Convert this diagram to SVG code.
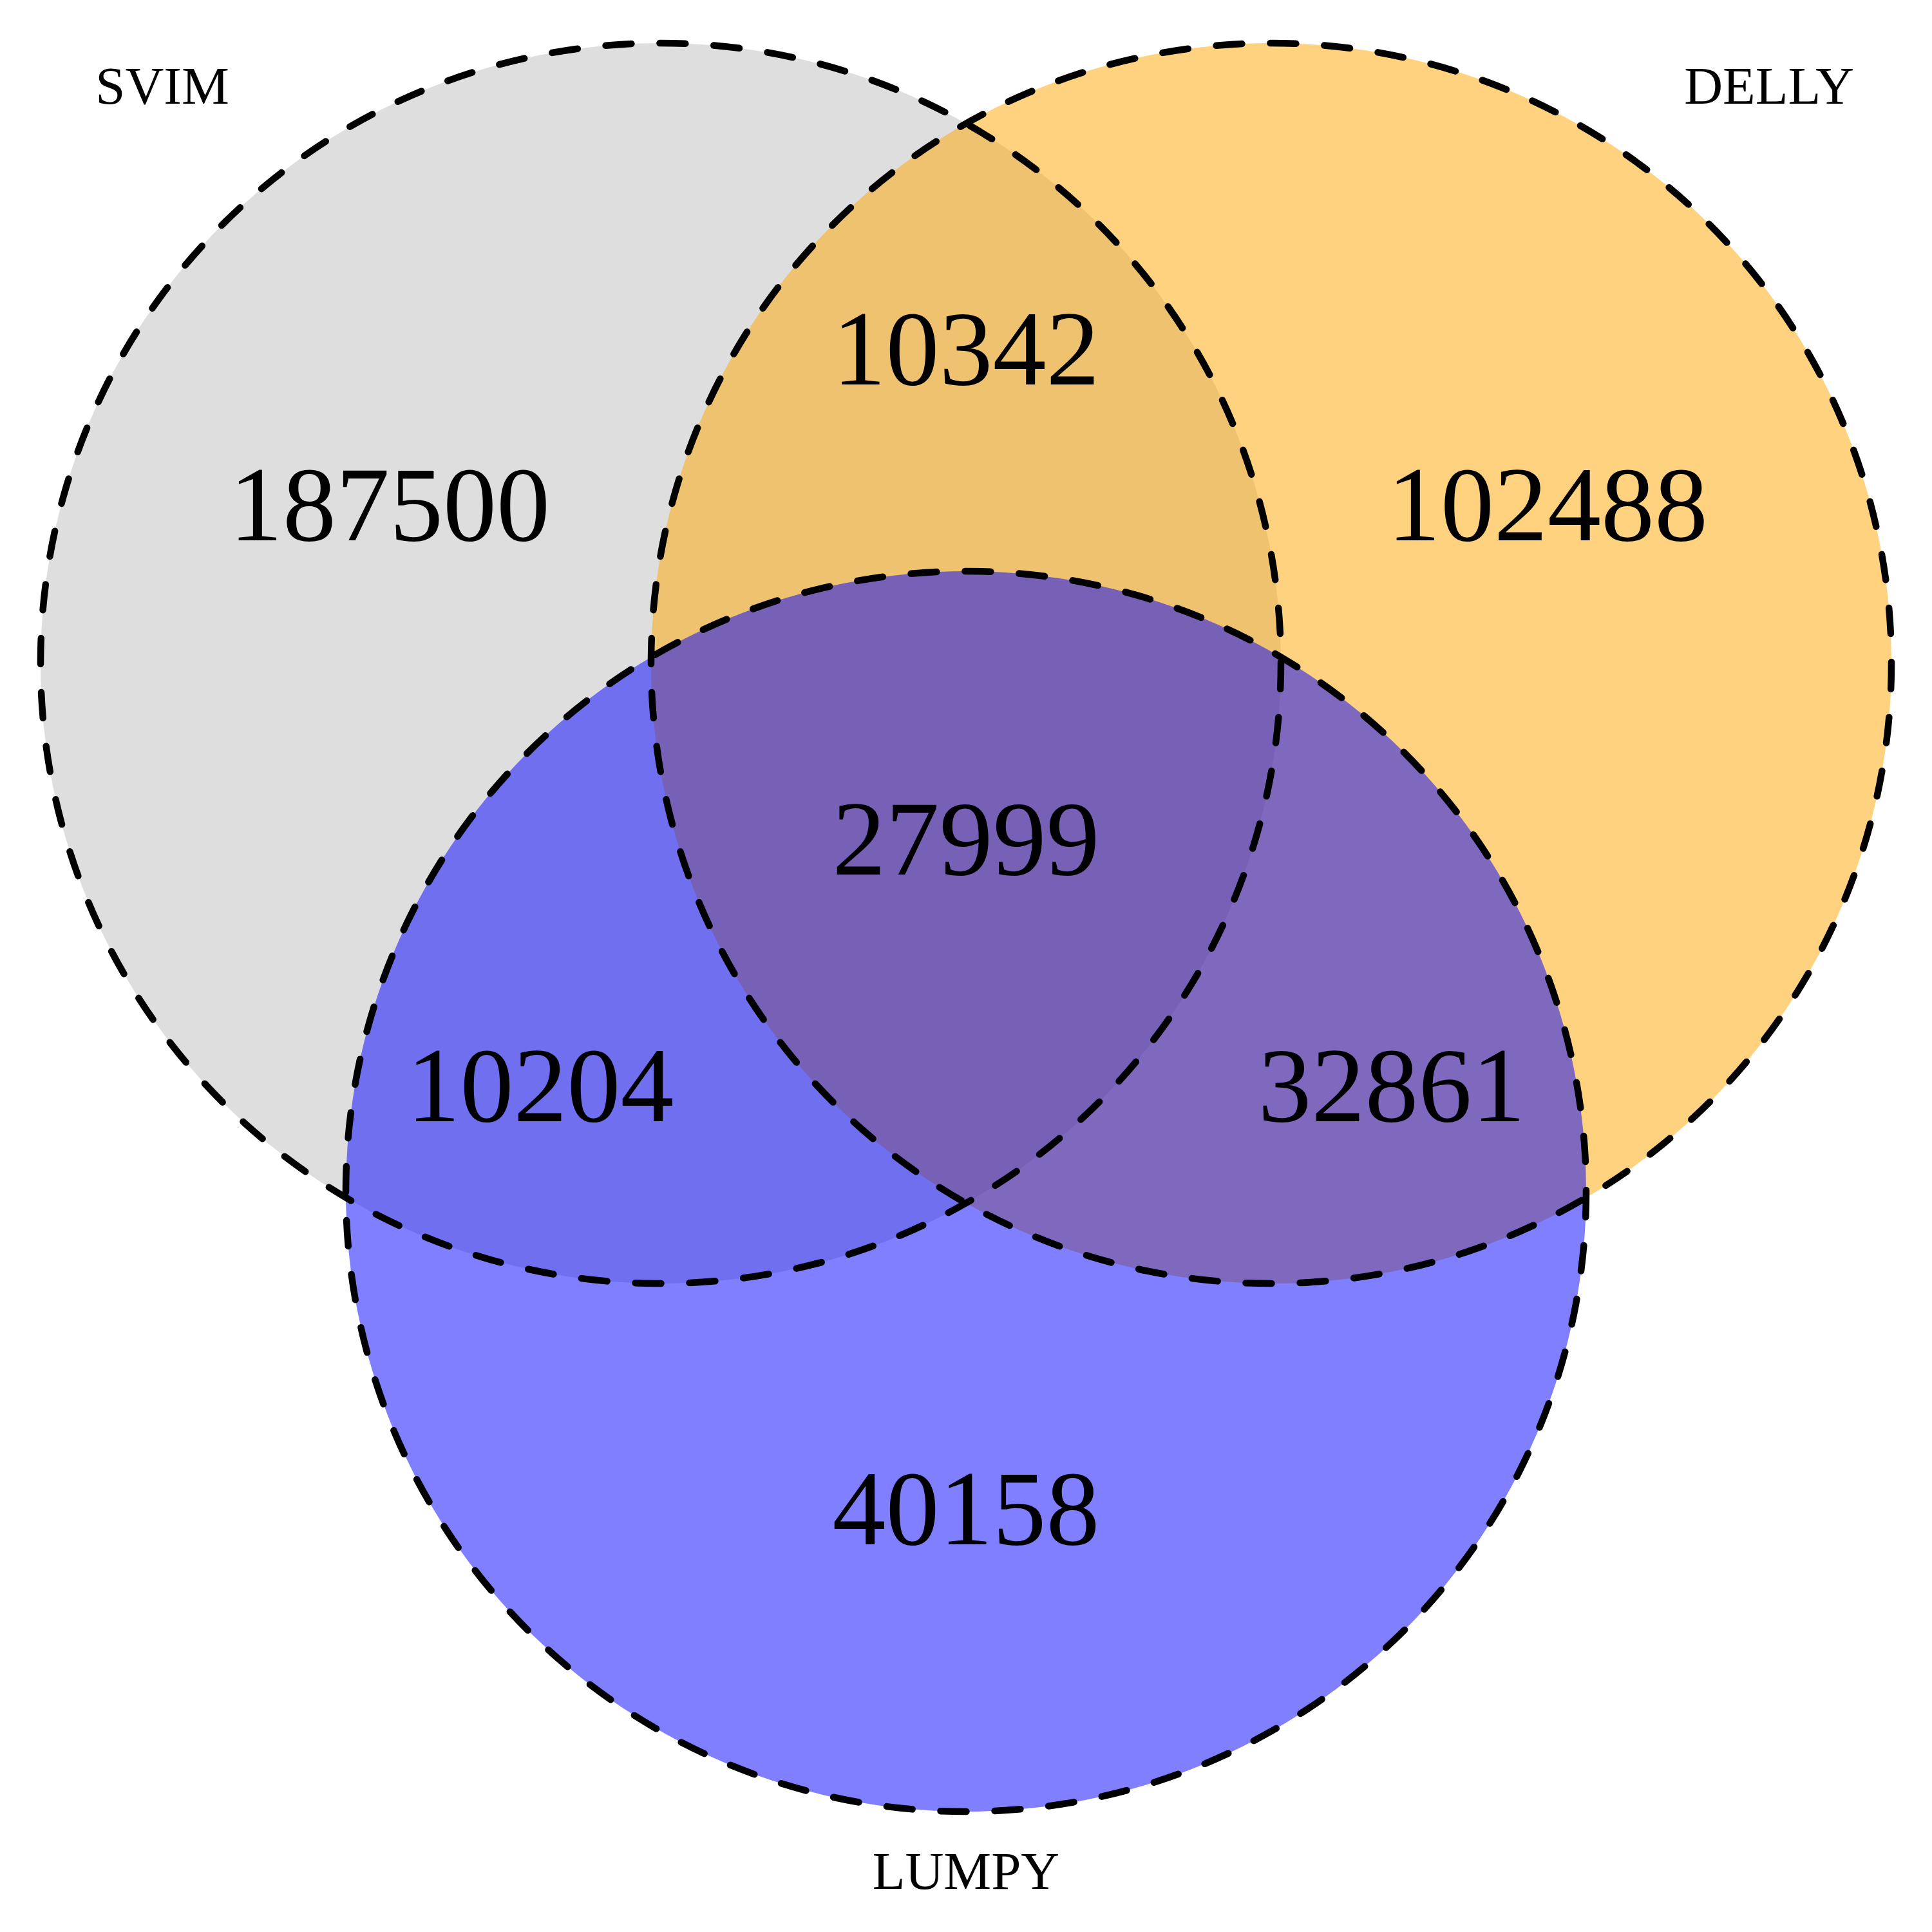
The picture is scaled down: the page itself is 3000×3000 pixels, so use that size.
<svg xmlns="http://www.w3.org/2000/svg" width="3000" height="3000" viewBox="0 0 3000 3000">
<style>
  .fill { stroke: none; fill-opacity: 0.5; }
  .outline { fill: none; stroke: #000; stroke-width: 10.5; stroke-dasharray: 40 44; stroke-linecap: round; }
  .num { font-family: "Liberation Serif", "Times New Roman", serif; font-size: 166px; text-anchor: middle; fill: #000; }
  .lab { font-family: "Liberation Serif", "Times New Roman", serif; font-size: 83px; text-anchor: middle; fill: #000; }
</style>
<rect x="0" y="0" width="3000" height="3000" fill="#ffffff"/>
<g id="SVIM">
  <circle class="fill" cx="1026" cy="1030" r="963" fill="#bebebe"/>
</g>
<g id="DELLY">
  <circle class="fill" cx="1974" cy="1030" r="963" fill="#ffa500"/>
</g>
<g id="LUMPY">
  <circle class="fill" cx="1500" cy="1850" r="963" fill="#0000ff"/>
</g>
<g id="outlines">
  <circle class="outline" cx="1026" cy="1030" r="963"/>
  <circle class="outline" cx="1974" cy="1030" r="963"/>
  <circle class="outline" cx="1500" cy="1850" r="963"/>
</g>
<g id="counts">
  <text class="num" x="605" y="839">187500</text>
  <text class="num" x="1500" y="597">10342</text>
  <text class="num" x="2403" y="839">102488</text>
  <text class="num" x="1500" y="1358">27999</text>
  <text class="num" x="839" y="1741">10204</text>
  <text class="num" x="2161" y="1741">32861</text>
  <text class="num" x="1500" y="2398">40158</text>
</g>
<g id="labels">
  <text class="lab" x="252" y="161">SVIM</text>
  <text class="lab" x="2747" y="161">DELLY</text>
  <text class="lab" x="1500" y="2933">LUMPY</text>
</g>
</svg>
